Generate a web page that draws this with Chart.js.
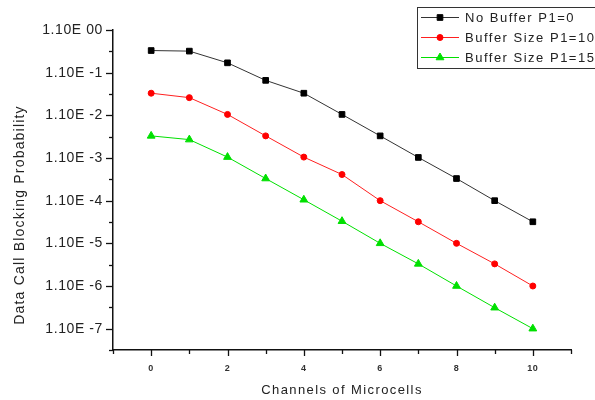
<!DOCTYPE html>
<html>
<head>
<meta charset="utf-8">
<script src="https://cdn.jsdelivr.net/npm/chart.js@4"></script>
<style>
  html, body { margin: 0; padding: 0; background: #fff; }
  #wrap { width: 595px; height: 400px; }
</style>
</head>
<body>
<div id="wrap"><canvas id="grafico" width="595" height="400"></canvas></div>
<script>
// valores
const canais = [0, 1, 2, 3, 4, 5, 6, 7, 8, 9, 10];
const semBuffer = [0.33, 0.32, 0.17, 0.066, 0.033, 0.0105, 0.0033, 0.00103, 0.00033, 0.0001, 0.000032];
const buffer10 = [0.033, 0.026, 0.0105, 0.0033, 0.00105, 0.00041, 0.0001, 0.000032, 0.00001, 0.0000033, 0.000001];
const buffer15 = [0.0033, 0.0027, 0.00105, 0.00033, 0.000105, 0.000033, 0.00001, 0.0000033, 0.000001, 0.00000031, 0.0000001];

const expoentesY = [0, -1, -2, -3, -4, -5, -6, -7];
const rotulosY = ["1.10E 00", "1.10E -1", "1.10E -2", "1.10E -3", "1.10E -4", "1.10E -5", "1.10E -6", "1.10E -7"];
const rotulosLegenda = ["No Buffer P1=0", "Buffer Size P1=10", "Buffer Size P1=15"];

const tituloX = "Channels of Microcells";
const tituloY = "Data Call Blocking Probability";

function pontos(valores) {
  return canais.map((c, i) => ({ x: c, y: valores[i] }));
}

// ticks maiores e menores desenhados à mão, títulos e legenda em caixa
const decoracao = {
  id: "decoracao",
  beforeDraw(chart) {
    // rótulos do eixo um pouco espaçados, como no original
    chart.ctx.letterSpacing = "0.6px";
  },
  afterDraw(chart) {
    const ctx = chart.ctx;
    const xs = chart.scales.x;
    const ys = chart.scales.y;
    const area = chart.chartArea;

    ctx.save();
    ctx.strokeStyle = "#111";
    ctx.lineWidth = 1.3;

    // eixo y
    ys.ticks.forEach((t) => {
      const y = Math.round(ys.getPixelForValue(t.value)) + 0.5;
      const maior = t.major;
      ctx.beginPath();
      ctx.moveTo(area.left, y);
      ctx.lineTo(area.left - (maior ? 7 : 4), y);
      ctx.stroke();
    });

    // eixo x
    for (let v = -1; v <= 11; v++) {
      const x = Math.round(xs.getPixelForValue(v)) + 0.5;
      const maior = v % 2 === 0;
      ctx.beginPath();
      ctx.moveTo(x, area.bottom);
      ctx.lineTo(x, area.bottom + (maior ? 6 : 4));
      ctx.stroke();
    }

    // títulos
    ctx.fillStyle = "#222";
    ctx.font = "13px 'Liberation Sans', Arial, sans-serif";
    ctx.letterSpacing = "1.4px";
    ctx.textAlign = "center";
    ctx.textBaseline = "middle";
    ctx.fillText(tituloX, (area.left + area.right) / 2, 390);

    ctx.letterSpacing = "1.2px";
    ctx.font = "14px 'Liberation Sans', Arial, sans-serif";
    ctx.translate(20, 215);
    ctx.rotate(-Math.PI / 2);
    ctx.fillText(tituloY, 0, 0);
    ctx.setTransform(1, 0, 0, 1, 0, 0);

    // legenda
    const caixa = { x: 417.5, y: 7.5, w: 200, h: 61 };
    ctx.strokeStyle = "#333";
    ctx.lineWidth = 1;
    ctx.strokeRect(caixa.x, caixa.y, caixa.w, caixa.h);

    ctx.font = "13px 'Liberation Sans', Arial, sans-serif";
    ctx.letterSpacing = "1.5px";
    ctx.textAlign = "left";
    chart.data.datasets.forEach((ds, i) => {
      const yl = 17.5 + i * 20;
      ctx.strokeStyle = ds.borderColor;
      ctx.lineWidth = 1;
      ctx.beginPath();
      ctx.moveTo(421, yl);
      ctx.lineTo(459, yl);
      ctx.stroke();
      ctx.fillStyle = ds.pointBackgroundColor;
      ctx.strokeStyle = ds.pointBackgroundColor;
      Chart.helpers.drawPoint(ctx, {
        pointStyle: ds.pointStyle,
        radius: ds.pointRadius,
        borderWidth: 1,
        rotation: 0,
      }, 440, yl);
      ctx.fillStyle = "#222";
      ctx.fillText(ds.label, 465, yl + 1);
    });

    ctx.restore();
  },
};

const ctx = document.getElementById("grafico").getContext("2d");

new Chart(ctx, {
  type: "line",
  data: {
    datasets: [
      {
        label: rotulosLegenda[0],
        data: pontos(semBuffer),
        borderColor: "#333",
        borderWidth: 1,
        pointStyle: "rect",
        pointRadius: 4,
        pointBackgroundColor: "#000",
        pointBorderColor: "#000",
        pointBorderWidth: 1,
      },
      {
        label: rotulosLegenda[1],
        data: pontos(buffer10),
        borderColor: "#ff2020",
        borderWidth: 1,
        pointStyle: "circle",
        pointRadius: 3,
        pointBackgroundColor: "#ff0000",
        pointBorderColor: "#ff0000",
        pointBorderWidth: 1,
      },
      {
        label: rotulosLegenda[2],
        data: pontos(buffer15),
        borderColor: "#00e000",
        borderWidth: 1,
        pointStyle: "triangle",
        pointRadius: 4.5,
        pointBackgroundColor: "#00e000",
        pointBorderColor: "#00e000",
        pointBorderWidth: 1,
      },
    ],
  },
  options: {
    responsive: false,
    animation: false,
    layout: {
      padding: { left: 0, top: 30, right: 24, bottom: 0 },
    },
    plugins: {
      legend: { display: false },
      tooltip: { enabled: false },
    },
    scales: {
      x: {
        type: "linear",
        min: -1,
        max: 11,
        grid: { display: false },
        border: { display: true, color: "#111", width: 1.5 },
        ticks: {
          stepSize: 1,
          padding: 5,
          color: "#333",
          font: { size: 9, weight: "bold", family: "'Liberation Sans', Arial, sans-serif" },
          maxRotation: 0,
          autoSkip: false,
          callback: function (value) {
            return value % 2 === 0 && value >= 0 && value <= 10 ? String(value) : "";
          },
        },
        afterFit: function (scale) {
          scale.height = 50;
        },
      },
      y: {
        type: "logarithmic",
        bounds: "data",
        min: Math.pow(10, -7.5),
        max: 1,
        grid: { display: false },
        border: { display: true, color: "#111", width: 1.5 },
        afterBuildTicks: function (scale) {
          const ticks = [];
          expoentesY.forEach((e) => {
            ticks.push({ value: Math.pow(10, e), major: true });
            ticks.push({ value: Math.pow(10, e - 0.5), major: false });
          });
          scale.ticks = ticks;
        },
        ticks: {
          padding: 2,
          color: "#222",
          autoSkip: false,
          font: { size: 14, family: "'Liberation Sans', Arial, sans-serif" },
          callback: function (value) {
            const e = Math.round(Math.log10(value) * 2) / 2;
            const i = expoentesY.indexOf(e);
            return i >= 0 ? rotulosY[i] : "";
          },
        },
        afterFit: function (scale) {
          scale.width = 113;
        },
      },
    },
  },
  plugins: [decoracao],
});
</script>
</body>
</html>
